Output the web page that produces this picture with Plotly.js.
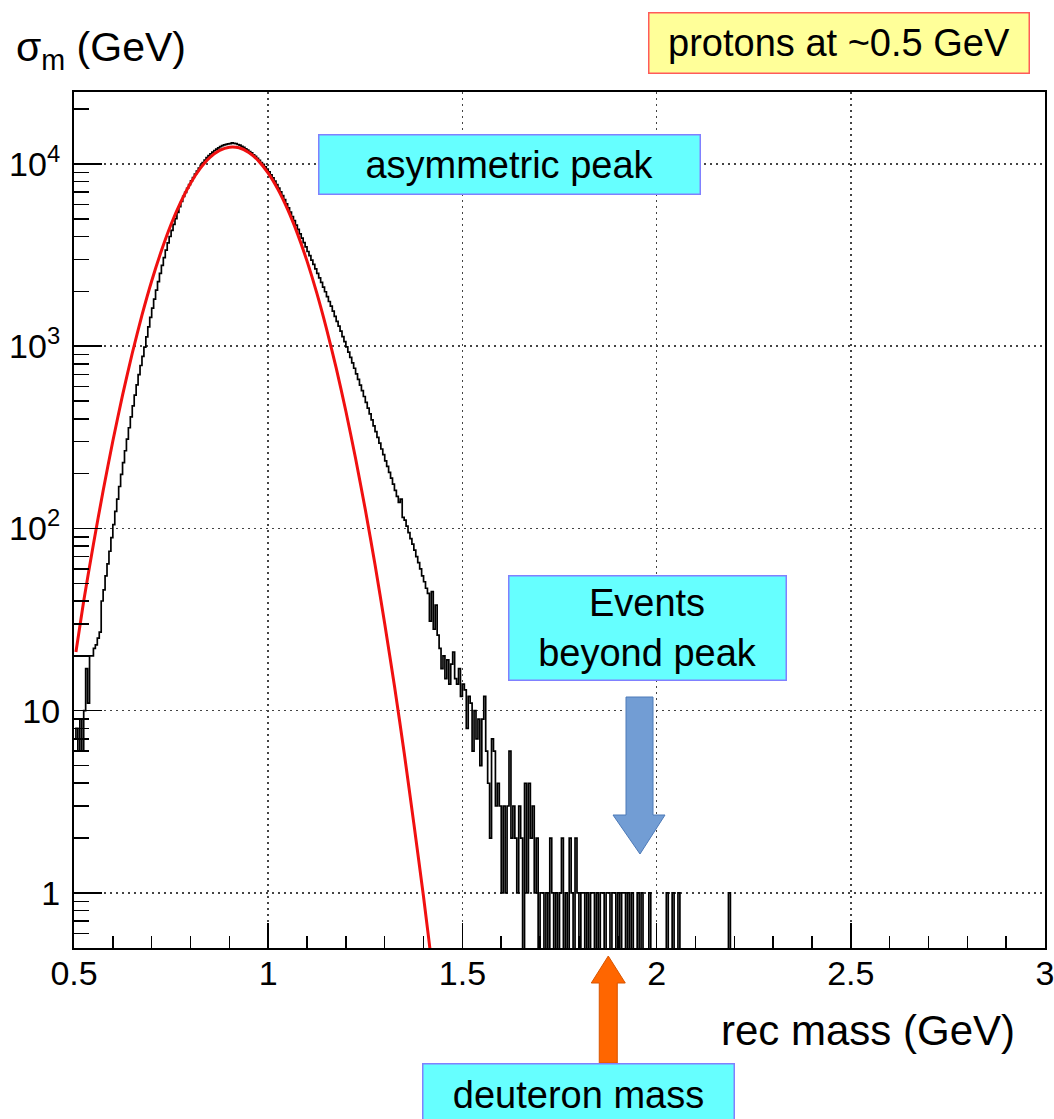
<!DOCTYPE html>
<html>
<head>
<meta charset="utf-8">
<script src="https://cdn.plot.ly/plotly-3.0.1.min.js"></script>
<style>
  html, body { margin: 0; padding: 0; background: #ffffff; }
  #chart { width: 1054px; height: 1119px; }
</style>
</head>
<body>
<div id="chart"></div>
<script>
// Reconstructed mass histogram: bin contents, 0.005 GeV bins starting at 0.5 GeV
const binStart = 0.5;
const binWidth = 0.005;
const counts = [
  // 0.50 - 0.595
  7, 8, 6, 9, 6, 10, 17, 11, 20, 20, 22, 23, 25, 27, 40, 46, 55, 64, 75, 89,
  // 0.60 - 0.695
  105, 124, 145, 170, 198, 230, 267, 309, 357, 410, 471, 539, 614, 699, 784, 879, 990, 1126, 1276, 1440,
  // 0.70 - 0.795
  1620, 1815, 2030, 2260, 2510, 2775, 3060, 3365, 3690, 4000, 4325, 4665, 5015, 5420, 5830, 6230, 6640, 6980, 7360, 7710,
  // 0.80 - 0.895
  8070, 8430, 8790, 9140, 9500, 9840, 10190, 10510, 10830, 11120, 11380, 11630, 11860, 12070, 12270, 12440, 12600, 12720, 12820, 12900,
  // 0.90 - 0.995
  12950, 13060, 12970, 12930, 12790, 12680, 12490, 12350, 12110, 11930, 11690, 11500, 11220, 11010, 10730, 10480, 10180, 9940, 9630, 9360,
  // 1.00 - 1.095
  9050, 8710, 8380, 8050, 7710, 7380, 7040, 6700, 6370, 6050, 5750, 5440, 5150, 4890, 4620, 4380, 4140, 3915, 3700, 3510,
  // 1.10 - 1.195
  3310, 3140, 2970, 2810, 2660, 2510, 2370, 2240, 2110, 1990, 1870, 1760, 1660, 1560, 1460, 1370, 1290, 1210, 1130, 1060,
  // 1.20 - 1.295
  993, 929, 869, 811, 757, 706, 658, 612, 570, 530, 492, 457, 425, 394, 366, 340, 316, 294, 273, 254,
  // 1.30 - 1.395
  235, 219, 203, 189, 175, 162, 150, 139, 145, 115, 111, 103, 95, 88, 82, 76, 70, 65, 60, 55,
  // 1.40 - 1.495
  51, 47, 44, 31, 45, 28, 38, 26, 22, 17, 20, 15, 19, 14, 18, 21, 15, 14, 17, 12,
  // 1.50 - 1.595
  14, 13, 8, 12, 11, 6, 10, 7, 9, 5, 9, 12, 6, 4, 2, 7, 6, 3, 4, 3,
  // 1.60 - 1.695
  1, 3, 1, 3, 6, 2, 3, 2, 1, 3, 2, 0, 4, 1, 4, 2, 3, 1, 2, 0,
  // 1.70 - 1.795
  1, 1, 0, 1, 0, 2, 1, 0, 1, 0, 1, 2, 0, 1, 0, 2, 1, 0, 2, 1,
  // 1.80 - 1.895
  0, 1, 1, 0, 1, 0, 1, 1, 0, 1, 0, 1, 1, 0, 1, 1, 0, 1, 1, 0,
  // 1.90 - 1.995
  1, 0, 1, 1, 0, 1, 0, 1, 0, 0, 1, 0, 1, 0, 0, 0, 1, 0, 0, 0,
  // 2.00 - 2.095
  0, 0, 0, 0, 0, 1, 0, 0, 1, 0, 0, 1, 0, 0, 0, 0, 0, 0, 0, 0,
  // 2.10 - 2.195
  0, 0, 0, 0, 0, 0, 0, 0, 0, 0, 0, 0, 0, 0, 0, 0, 0, 1, 0, 0
];

// Gaussian fit to the peak, sampled along the mass axis
const fitMass = [0.505, 0.525, 0.55, 0.575, 0.60, 0.625, 0.65, 0.675, 0.70, 0.725, 0.75, 0.775, 0.80, 0.825, 0.85, 0.875, 0.90, 0.925, 0.95, 0.975,
                 1.00, 1.025, 1.05, 1.075, 1.10, 1.125, 1.15, 1.175, 1.20, 1.225, 1.25, 1.275, 1.30, 1.325, 1.35, 1.375, 1.40, 1.425, 1.45];
const fitValue = [21, 40, 82, 161, 302, 539, 915, 1480, 2280, 3340, 4670, 6200, 7850, 9460, 10870, 11880, 12370, 12270, 11570, 10400,
                  8900, 7255, 5630, 4160, 2930, 1962, 1250, 760, 440, 242, 127, 63.5, 30, 13.7, 5.9, 2.4, 0.95, 0.35, 0.125];

const xTickVals = [0.5, 1, 1.5, 2, 2.5, 3];
const xTickText = ['0.5', '1', '1.5', '2', '2.5', '3'];
const yTickVals = [1, 10, 100, 1000, 10000];
const yTickText = ['1', '10', '10<sup>2</sup>', '10<sup>3</sup>', '10<sup>4</sup>'];
const deuteronMass = 1.8756;

// ---- figure geometry (pixels) ----
const W = 1054, H = 1119;
const frame = { l: 74, r: 1045, t: 92, b: 948 };
const px2x = px => (px - frame.l) / (frame.r - frame.l);
const px2y = py => (frame.b - py) / (frame.b - frame.t);

// Histogram outline as steps; empty bins drop to the bottom of the frame
const emptyFloor = 0.05;
const edges = [], stepY = [];
counts.forEach((c, i) => {
  edges.push(binStart + i * binWidth);
  stepY.push(c > 0 ? c : emptyFloor);
});
edges.push(binStart + counts.length * binWidth);
stepY.push(stepY[stepY.length - 1]);

// minor ticks
const xMinor = [];
for (let k = 5; k <= 30; k++) { if (k % 5 !== 0) xMinor.push(k / 10); }
const yMinor = [];
for (let d = -1; d <= 4; d++) {
  for (let m = 2; m <= 9; m++) {
    const v = m * Math.pow(10, d);
    if (v >= 0.5 && v <= 24000) yMinor.push(v);
  }
}

const font = 'Liberation Sans, Arial, sans-serif';

const traces = [
  {
    x: edges, y: stepY, type: 'scatter', mode: 'lines',
    line: { shape: 'hv', color: '#000000', width: 1.7, simplify: false },
    hoverinfo: 'skip', showlegend: false
  },
  {
    x: fitMass, y: fitValue, type: 'scatter', mode: 'lines',
    line: { shape: 'spline', smoothing: 0.6, color: '#f01010', width: 3 },
    hoverinfo: 'skip', showlegend: false
  }
];

const gridStyle = { gridcolor: '#444444', gridwidth: 1.5, griddash: '2px,4px' };

const layout = {
  width: W, height: H,
  margin: { l: frame.l, r: W - frame.r, t: frame.t, b: H - frame.b, pad: 0 },
  paper_bgcolor: '#ffffff', plot_bgcolor: '#ffffff',
  showlegend: false,
  font: { family: font, color: '#000000' },
  xaxis: {
    range: [0.5, 3],
    tickmode: 'array', tickvals: xTickVals, ticktext: xTickText,
    ticks: 'inside', ticklen: 25, tickwidth: 1.5, tickcolor: '#000',
    minor: { tickmode: 'array', tickvals: xMinor, ticks: 'inside', ticklen: 12, tickwidth: 1.5, tickcolor: '#000', showgrid: false },
    showgrid: true, ...gridStyle,
    showline: true, linecolor: '#000', linewidth: 2, mirror: true,
    zeroline: false,
    ticklabelstandoff: -6,
    ticklabeloverflow: 'allow',
    tickfont: { family: font, size: 34, color: '#000' }
  },
  yaxis: {
    type: 'log', range: [-0.302, 4.395],
    tickmode: 'array', tickvals: yTickVals, ticktext: yTickText,
    ticks: 'inside', ticklen: 28, tickwidth: 1.5, tickcolor: '#000',
    minor: { tickmode: 'array', tickvals: yMinor, ticks: 'inside', ticklen: 15, tickwidth: 1.5, tickcolor: '#000', showgrid: false },
    showgrid: true, ...gridStyle,
    showline: true, linecolor: '#000', linewidth: 2, mirror: true,
    zeroline: false,
    ticklabelstandoff: 5,
    ticklabeloverflow: 'allow',
    tickfont: { family: font, size: 34, color: '#000' }
  },
  shapes: [
    // blue block arrow under "Events beyond peak"
    {
      type: 'path', xref: 'paper', yref: 'paper', layer: 'above',
      path: 'M ' + [[626, 697], [653, 697], [653, 815], [665, 815], [640, 854], [613, 815], [626, 815]]
        .map(p => px2x(p[0]) + ',' + px2y(p[1])).join(' L ') + ' Z',
      fillcolor: '#729dd4', line: { color: '#4d7ab8', width: 1 }
    },
    // orange arrow marking the deuteron mass
    {
      type: 'path', xref: 'x', yref: 'paper', layer: 'above',
      path: (() => {
        const s = 9 / 388.4, h = 17 / 388.4, m = deuteronMass;
        const pts = [[m - s, 1063], [m - s, 983], [m - h, 983], [m, 956], [m + h, 983], [m + s, 983], [m + s, 1063]];
        return 'M ' + pts.map(p => p[0] + ',' + px2y(p[1])).join(' L ') + ' Z';
      })(),
      fillcolor: '#ff6600', line: { color: '#d85500', width: 1 }
    }
  ],
  annotations: [
    {
      text: 'σ<sub>m</sub> (GeV)', xref: 'paper', yref: 'paper',
      x: px2x(14), y: px2y(50), xanchor: 'left', yanchor: 'middle',
      showarrow: false, font: { family: font, size: 41, color: '#000' }
    },
    {
      text: 'rec mass (GeV)', xref: 'paper', yref: 'paper',
      x: px2x(1017), y: px2y(1030), xanchor: 'right', yanchor: 'middle',
      showarrow: false, font: { family: font, size: 42, color: '#000' }
    },
    {
      text: 'protons at ~0.5 GeV', xref: 'paper', yref: 'paper',
      x: px2x(838.5), y: px2y(42.5), xanchor: 'center', yanchor: 'middle',
      width: 379, height: 59, borderpad: 0, borderwidth: 1.5,
      bgcolor: '#ffff99', bordercolor: '#ff5a5a',
      showarrow: false, font: { family: font, size: 38, color: '#000' }
    },
    {
      text: 'asymmetric peak', xref: 'paper', yref: 'paper',
      x: px2x(509), y: px2y(164), xanchor: 'center', yanchor: 'middle',
      width: 380, height: 58, borderpad: 0, borderwidth: 1.5,
      bgcolor: '#66ffff', bordercolor: '#8080ff',
      showarrow: false, font: { family: font, size: 38, color: '#000' }
    },
    {
      text: 'Events<br>beyond peak', xref: 'paper', yref: 'paper',
      x: px2x(647), y: px2y(627.5), xanchor: 'center', yanchor: 'middle',
      width: 276, height: 103, borderpad: 0, borderwidth: 1.5,
      bgcolor: '#66ffff', bordercolor: '#8080ff',
      showarrow: false, font: { family: font, size: 38, color: '#000' }
    },
    {
      text: 'deuteron mass', xref: 'paper', yref: 'paper',
      x: px2x(578), y: px2y(1094), xanchor: 'center', yanchor: 'middle',
      width: 310, height: 60, borderpad: 0, borderwidth: 1.5,
      bgcolor: '#66ffff', bordercolor: '#8080ff',
      showarrow: false, font: { family: font, size: 38, color: '#000' }
    }
  ]
};

Plotly.newPlot('chart', traces, layout, { displayModeBar: false, staticPlot: true });
</script>
</body>
</html>
